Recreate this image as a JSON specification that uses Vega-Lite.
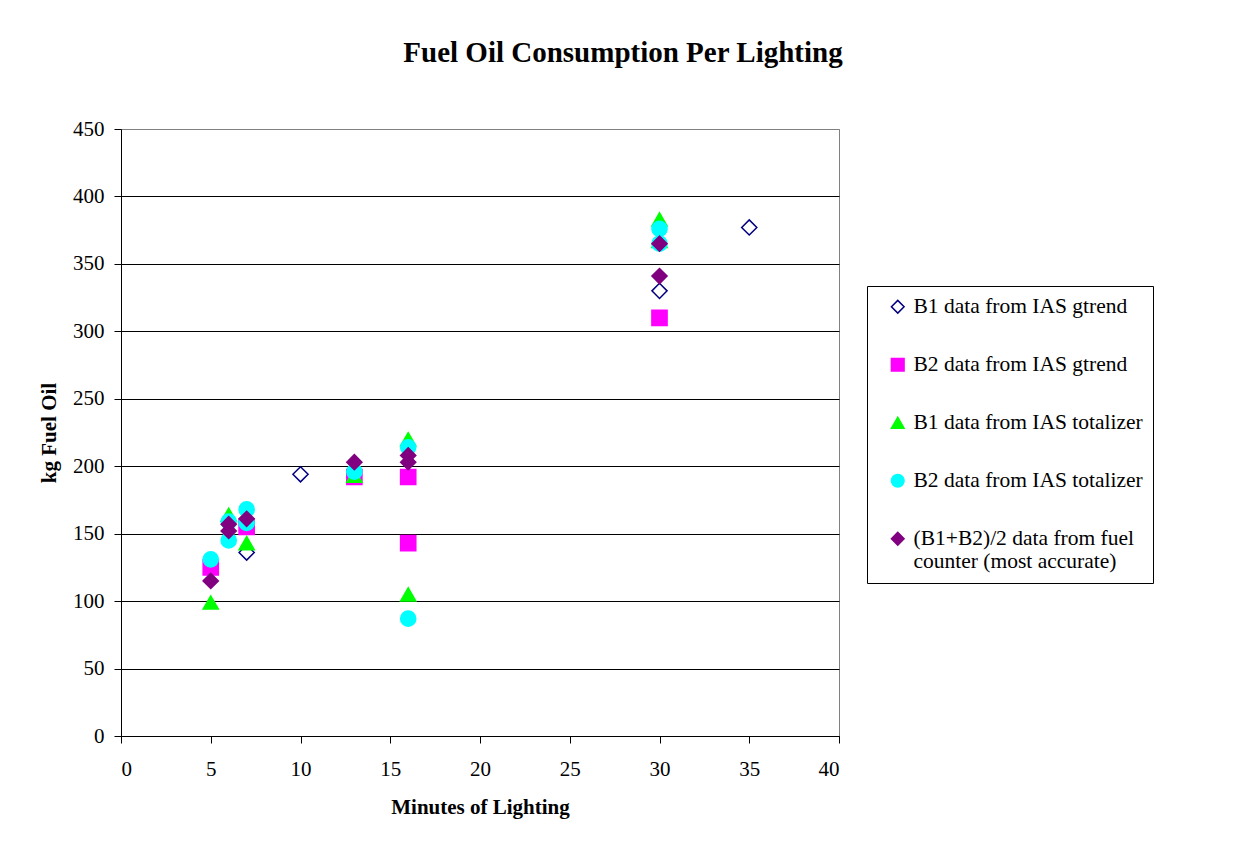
{
  "$schema": "https://vega.github.io/schema/vega-lite/v6.json",
  "autosize": {"type": "none"},
  "padding": {"left": 121, "top": 129, "right": 395, "bottom": 107},
  "width": 718,
  "height": 607,
  "background": "white",
  "title": {
    "text": "Fuel Oil Consumption Per Lighting",
    "font": "Liberation Serif",
    "fontSize": 29,
    "fontWeight": "bold",
    "color": "black",
    "anchor": "middle",
    "frame": "group",
    "dx": 143,
    "offset": 50
  },
  "config": {
    "view": {"stroke": "#808080", "strokeWidth": 1},
    "axis": {
      "labelFont": "Liberation Serif",
      "titleFont": "Liberation Serif",
      "labelFontSize": 21,
      "titleFontSize": 21,
      "titleFontWeight": "bold",
      "labelColor": "black",
      "titleColor": "black",
      "domainColor": "black",
      "tickColor": "black",
      "gridOpacity": 1,
      "gridWidth": 1,
      "tickSize": 7
    }
  },
  "data": {
    "values": [
      {"series": "B1 data from IAS gtrend", "minutes": 7, "kg": 136},
      {"series": "B1 data from IAS gtrend", "minutes": 10, "kg": 194},
      {"series": "B1 data from IAS gtrend", "minutes": 30, "kg": 330},
      {"series": "B1 data from IAS gtrend", "minutes": 35, "kg": 377},
      {"series": "B2 data from IAS gtrend", "minutes": 5, "kg": 125},
      {"series": "B2 data from IAS gtrend", "minutes": 7, "kg": 155},
      {"series": "B2 data from IAS gtrend", "minutes": 13, "kg": 192},
      {"series": "B2 data from IAS gtrend", "minutes": 16, "kg": 192},
      {"series": "B2 data from IAS gtrend", "minutes": 16, "kg": 143},
      {"series": "B2 data from IAS gtrend", "minutes": 30, "kg": 310},
      {"series": "B1 data from IAS totalizer", "minutes": 5, "kg": 99},
      {"series": "B1 data from IAS totalizer", "minutes": 6, "kg": 164},
      {"series": "B1 data from IAS totalizer", "minutes": 7, "kg": 143},
      {"series": "B1 data from IAS totalizer", "minutes": 13, "kg": 193},
      {"series": "B1 data from IAS totalizer", "minutes": 16, "kg": 220},
      {"series": "B1 data from IAS totalizer", "minutes": 16, "kg": 105},
      {"series": "B1 data from IAS totalizer", "minutes": 30, "kg": 383},
      {"series": "B1 data from IAS totalizer", "minutes": 30, "kg": 367},
      {"series": "B2 data from IAS totalizer", "minutes": 5, "kg": 131},
      {"series": "B2 data from IAS totalizer", "minutes": 6, "kg": 159},
      {"series": "B2 data from IAS totalizer", "minutes": 6, "kg": 145},
      {"series": "B2 data from IAS totalizer", "minutes": 7, "kg": 168},
      {"series": "B2 data from IAS totalizer", "minutes": 7, "kg": 158},
      {"series": "B2 data from IAS totalizer", "minutes": 13, "kg": 196},
      {"series": "B2 data from IAS totalizer", "minutes": 16, "kg": 214},
      {"series": "B2 data from IAS totalizer", "minutes": 16, "kg": 87},
      {"series": "B2 data from IAS totalizer", "minutes": 30, "kg": 376},
      {"series": "B2 data from IAS totalizer", "minutes": 30, "kg": 365},
      {"series": "(B1+B2)/2 data from fuel counter (most accurate)", "minutes": 5, "kg": 115},
      {"series": "(B1+B2)/2 data from fuel counter (most accurate)", "minutes": 6, "kg": 157},
      {"series": "(B1+B2)/2 data from fuel counter (most accurate)", "minutes": 6, "kg": 152},
      {"series": "(B1+B2)/2 data from fuel counter (most accurate)", "minutes": 7, "kg": 161},
      {"series": "(B1+B2)/2 data from fuel counter (most accurate)", "minutes": 13, "kg": 203},
      {"series": "(B1+B2)/2 data from fuel counter (most accurate)", "minutes": 16, "kg": 208},
      {"series": "(B1+B2)/2 data from fuel counter (most accurate)", "minutes": 16, "kg": 203},
      {"series": "(B1+B2)/2 data from fuel counter (most accurate)", "minutes": 30, "kg": 365},
      {"series": "(B1+B2)/2 data from fuel counter (most accurate)", "minutes": 30, "kg": 341}
    ]
  },
  "mark": {"type": "point", "filled": true, "size": 230, "strokeWidth": 1.5, "opacity": 1},
  "encoding": {
    "x": {
      "field": "minutes",
      "type": "quantitative",
      "title": "Minutes of Lighting",
      "scale": {"domain": [0, 40], "nice": false},
      "axis": {"values": [0, 5, 10, 15, 20, 25, 30, 35, 40], "grid": false, "labelPadding": 15, "titlePadding": 17}
    },
    "y": {
      "field": "kg",
      "type": "quantitative",
      "title": "kg Fuel Oil",
      "scale": {"domain": [0, 450], "nice": false},
      "axis": {
        "values": [0, 50, 100, 150, 200, 250, 300, 350, 400, 450],
        "grid": true,
        "gridColor": {"condition": {"test": "datum.value == 450", "value": "#808080"}, "value": "black"},
        "labelPadding": 10,
        "titlePadding": 13
      }
    },
    "shape": {
      "field": "series",
      "type": "nominal",
      "scale": {
        "domain": ["B1 data from IAS gtrend", "B2 data from IAS gtrend", "B1 data from IAS totalizer", "B2 data from IAS totalizer", "(B1+B2)/2 data from fuel counter (most accurate)"],
        "range": ["diamond", "square", "triangle-up", "circle", "diamond"]
      },
      "legend": {
        "title": null,
        "orient": "none",
        "legendX": 746,
        "legendY": 157,
        "padding": 10,
        "symbolOffset": 10,
        "strokeColor": "black",
        "fillColor": "white",
        "labelFont": "Liberation Serif",
        "labelFontSize": 21.5,
        "labelColor": "black",
        "labelOffset": 5,
        "labelLimit": 400,
        "rowPadding": 35,
        "symbolSize": 160,
        "symbolStrokeWidth": 1.5,
        "labelExpr": "datum.label == '(B1+B2)/2 data from fuel counter (most accurate)' ? ['(B1+B2)/2 data from fuel', 'counter (most accurate)'] : datum.label"
      }
    },
    "fill": {
      "field": "series",
      "type": "nominal",
      "scale": {
        "domain": ["B1 data from IAS gtrend", "B2 data from IAS gtrend", "B1 data from IAS totalizer", "B2 data from IAS totalizer", "(B1+B2)/2 data from fuel counter (most accurate)"],
        "range": ["transparent", "#FF00FF", "#00FF00", "#00FFFF", "#800080"]
      }
    },
    "stroke": {
      "field": "series",
      "type": "nominal",
      "scale": {
        "domain": ["B1 data from IAS gtrend", "B2 data from IAS gtrend", "B1 data from IAS totalizer", "B2 data from IAS totalizer", "(B1+B2)/2 data from fuel counter (most accurate)"],
        "range": ["#000080", "#FF00FF", "#00FF00", "#00FFFF", "#800080"]
      }
    }
  }
}
